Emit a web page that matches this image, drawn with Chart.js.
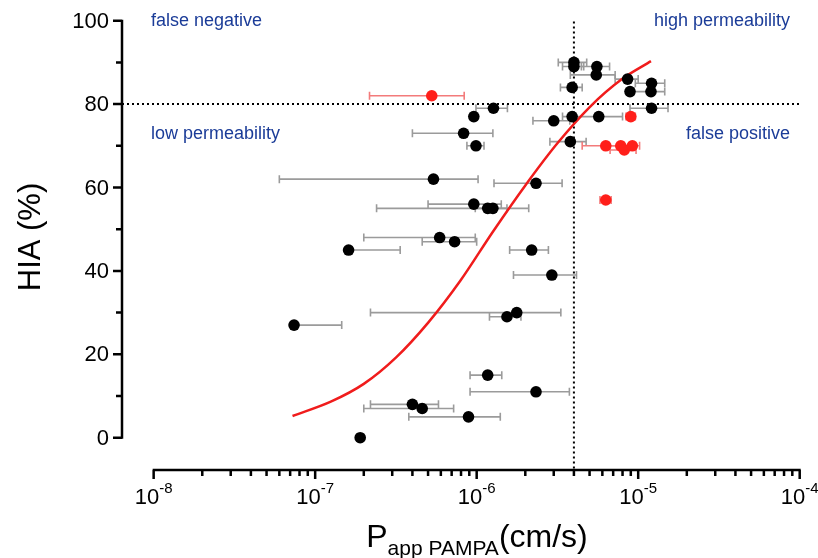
<!DOCTYPE html>
<html>
<head>
<meta charset="utf-8">
<script src="https://cdn.jsdelivr.net/npm/chart.js@4.4.1/dist/chart.umd.min.js"></script>
<style>
  body { margin: 0; background: #fff; }
  #wrap { width: 818px; height: 558px; position: relative; }
</style>
</head>
<body>
<div id="wrap"><canvas id="Chart1"></canvas></div>
<script>
// black compounds: Papp (cm/s), HIA (%), SD of Papp
const blackX = [4.0e-6, 4.0e-6, 5.55e-6, 5.5e-6, 8.6e-6, 1.21e-5, 3.9e-6, 8.9e-6, 1.2e-5, 1.21e-5,
                1.27e-6, 9.6e-7, 3.9e-6, 3.0e-6, 5.7e-6, 8.3e-7, 9.9e-7, 3.8e-6, 5.4e-7, 2.33e-6,
                9.6e-7, 1.17e-6, 1.26e-6, 5.9e-7, 7.3e-7, 1.61e-7, 2.19e-6, 2.92e-6, 1.77e-6, 1.54e-6,
                7.4e-8, 1.17e-6, 2.33e-6, 4.0e-7, 4.6e-7, 8.9e-7, 1.9e-7];
const blackY = [90, 89, 89, 87, 86, 85, 84, 83, 83, 79,
                79, 77, 77, 76, 77, 73, 70, 71, 62, 61,
                56, 55, 55, 48, 47, 45, 45, 39, 30, 29,
                27, 15, 11, 8, 7, 5, 0];
const blackSD = [0.8e-6, 0.6e-6, 1.1e-6, 1.7e-6, 1.4e-6, 2.5e-6, 0.6e-6, 0, 2.6e-6, 3.2e-6,
                 0.28e-6, 0, 0, 0.77e-6, 2.3e-6, 4.3e-7, 1.2e-7, 0.96e-6, 4.8e-7, 1.05e-6,
                 4.6e-7, 9.3e-7, 2.8e-7, 3.9e-7, 2.7e-7, 1.75e-7, 5.9e-7, 1.23e-6, 1.55e-6, 3.4e-7,
                 7.2e-8, 2.6e-7, 1.42e-6, 1.8e-7, 2.6e-7, 5.1e-7, 0];

// red compounds
const redX = [5.27e-7, 9.0e-6, 6.3e-6, 7.8e-6, 8.2e-6, 9.2e-6, 6.3e-6];
const redY = [82, 77, 70, 70, 69, 70, 57];
const redSD = [3.1e-7, 0.6e-6, 1.8e-6, 1.2e-6, 1.5e-6, 1.0e-6, 0.5e-6];

// fitted curve
const curveX = [7.24e-8, 1.26e-7, 2.0e-7, 3.16e-7, 5.01e-7, 7.94e-7, 1.26e-6,
                2.0e-6, 3.16e-6, 5.01e-6, 7.94e-6, 1.2e-5];
const curveY = [5.2, 8.7, 12.9, 19.2, 27.6, 37.7, 49.4, 60.5, 70.6, 79.3, 86.0, 90.3];

// cut-offs
const papCut = 4e-6;
const hiaCut = 80;

// axes
const xMajor = [1e-8, 1e-7, 1e-6, 1e-5, 1e-4];
const xMajorExp = ['-8', '-7', '-6', '-5', '-4'];
const yMajor = [0, 20, 40, 60, 80, 100];
const yMinor = [10, 30, 50, 70, 90];

const quadrantText = ['false negative', 'high permeability', 'low permeability', 'false positive'];

const X_MIN = Math.pow(10, -8.196);
const X_MAX = 1e-4;
const Y_MIN = -7.75;
const Y_MAX = 100;
const FONT = '"Liberation Sans", Arial, Helvetica, sans-serif';

function toPoints(xs, ys){
    return xs.map((x, i) => ({x: x, y: ys[i]}));
}

const errorBars = {
    id: 'errorBars',
    beforeDatasetsDraw(chart){
        const ctx = chart.ctx;
        const xs = chart.scales.x, ys = chart.scales.y;
        const sets = [[blackX, blackY, blackSD, '#9b9b9b'], [redX, redY, redSD, '#f37b7b']];
        ctx.save();
        ctx.lineWidth = 1.6;
        sets.forEach(([X, Y, SD, col]) => {
            ctx.strokeStyle = col;
            X.forEach((x, i) => {
                if (!SD[i]) return;
                const py = ys.getPixelForValue(Y[i]);
                const px = xs.getPixelForValue(x);
                const hi = xs.getPixelForValue(x + SD[i]);
                const lo = x - SD[i];
                let left = px;
                ctx.beginPath();
                if (lo > X_MIN){
                    left = xs.getPixelForValue(lo);
                    ctx.moveTo(left, py - 4); ctx.lineTo(left, py + 4);
                }
                ctx.moveTo(left, py); ctx.lineTo(hi, py);
                ctx.moveTo(hi, py - 4); ctx.lineTo(hi, py + 4);
                ctx.stroke();
            });
        });
        ctx.restore();
    }
};

const axesPlugin = {
    id: 'axesPlugin',
    afterDraw(chart){
        const ctx = chart.ctx;
        const xs = chart.scales.x, ys = chart.scales.y;
        const area = chart.chartArea;
        ctx.save();
        ctx.strokeStyle = '#000';
        ctx.fillStyle = '#000';
        ctx.lineWidth = 2.5;

        // y axis
        const y0 = ys.getPixelForValue(0), y100 = ys.getPixelForValue(100);
        ctx.beginPath();
        ctx.moveTo(area.left, y0 + 1); ctx.lineTo(area.left, y100 - 1);
        yMajor.forEach(v => {
            const p = ys.getPixelForValue(v);
            ctx.moveTo(area.left, p); ctx.lineTo(area.left - 9, p);
        });
        yMinor.forEach(v => {
            const p = ys.getPixelForValue(v);
            ctx.moveTo(area.left, p); ctx.lineTo(area.left - 6, p);
        });
        ctx.stroke();
        ctx.font = '22px ' + FONT;
        ctx.textAlign = 'right';
        ctx.textBaseline = 'middle';
        yMajor.forEach(v => ctx.fillText(String(v), area.left - 13, ys.getPixelForValue(v) + 1));

        // x axis
        const xb = area.bottom;
        const x1 = xs.getPixelForValue(xMajor[0]), x2 = xs.getPixelForValue(xMajor[xMajor.length - 1]);
        ctx.beginPath();
        ctx.moveTo(x1 - 1, xb); ctx.lineTo(x2 + 1, xb);
        xMajor.forEach((v, i) => {
            const p = xs.getPixelForValue(v);
            ctx.moveTo(p, xb); ctx.lineTo(p, xb + 9);
            if (i < xMajor.length - 1){
                for (let m = 2; m <= 9; m++){
                    const q = xs.getPixelForValue(v * m);
                    ctx.moveTo(q, xb); ctx.lineTo(q, xb + 6);
                }
            }
        });
        ctx.stroke();
        ctx.textBaseline = 'alphabetic';
        ctx.textAlign = 'left';
        xMajor.forEach((v, i) => {
            const p = xs.getPixelForValue(v);
            ctx.font = '22px ' + FONT;
            const w1 = ctx.measureText('10').width;
            ctx.font = '15px ' + FONT;
            const w2 = ctx.measureText(xMajorExp[i]).width;
            const start = p - (w1 + w2) / 2;
            ctx.font = '22px ' + FONT;
            ctx.fillText('10', start, 504);
            ctx.font = '15px ' + FONT;
            ctx.fillText(xMajorExp[i], start + w1, 493);
        });

        // axis titles
        ctx.font = '32px ' + FONT;
        const tP = ctx.measureText('P').width;
        const tU = ctx.measureText('(cm/s)').width;
        ctx.font = '21px ' + FONT;
        const tS = ctx.measureText('app PAMPA').width;
        let sx = 477 - (tP + tS + tU) / 2;
        ctx.font = '32px ' + FONT;
        ctx.fillText('P', sx, 547);
        ctx.font = '21px ' + FONT;
        ctx.fillText('app PAMPA', sx + tP, 555);
        ctx.font = '32px ' + FONT;
        ctx.fillText('(cm/s)', sx + tP + tS, 547);

        ctx.save();
        ctx.translate(31, 237);
        ctx.rotate(-Math.PI / 2);
        ctx.textAlign = 'center';
        ctx.textBaseline = 'middle';
        ctx.font = '31px ' + FONT;
        ctx.fillText('HIA (%)', 0, 0);
        ctx.restore();

        // quadrant labels
        ctx.fillStyle = '#1b3c98';
        ctx.font = '18px ' + FONT;
        ctx.textBaseline = 'middle';
        ctx.textAlign = 'left';
        ctx.fillText(quadrantText[0], 151, 21);
        ctx.fillText(quadrantText[2], 151, 134);
        ctx.textAlign = 'right';
        ctx.fillText(quadrantText[1], 790, 21);
        ctx.fillText(quadrantText[3], 790, 134);
        ctx.restore();
    }
};

function loadChart(){
    const ctx1 = document.getElementById('Chart1');
    const data1 = {
        datasets: [
            {
                label: 'black',
                data: toPoints(blackX, blackY),
                backgroundColor: '#000',
                borderWidth: 0,
                pointRadius: 5.8,
                order: 0
            },
            {
                label: 'red',
                data: toPoints(redX, redY),
                backgroundColor: '#ff1f1a',
                borderWidth: 0,
                pointRadius: 5.8,
                order: 0
            },
            {
                label: 'fit',
                data: toPoints(curveX, curveY),
                showLine: true,
                borderColor: '#f01c1c',
                borderWidth: 2.5,
                pointRadius: 0,
                cubicInterpolationMode: 'monotone',
                order: 1
            },
            {
                label: 'pcut',
                data: [{x: papCut, y: 101}, {x: papCut, y: Y_MIN}],
                showLine: true,
                borderColor: '#000',
                borderWidth: 2,
                borderDash: [2, 3],
                pointRadius: 0,
                order: 2
            },
            {
                label: 'hcut',
                data: [{x: X_MIN, y: hiaCut}, {x: X_MAX, y: hiaCut}],
                showLine: true,
                borderColor: '#000',
                borderWidth: 2,
                borderDash: [2, 3],
                pointRadius: 0,
                order: 2
            }
        ]
    };
    const config1 = {
        type: 'scatter',
        data: data1,
        options: {
            responsive: true,
            maintainAspectRatio: false,
            animation: false,
            layout: { padding: { left: 122, right: 18.3, top: 20.7, bottom: 88 } },
            plugins: { legend: { display: false }, tooltip: { enabled: false } },
            scales: {
                x: { type: 'logarithmic', min: X_MIN, max: X_MAX, display: false },
                y: { type: 'linear', min: Y_MIN, max: Y_MAX, display: false }
            }
        },
        plugins: [errorBars, axesPlugin]
    };
    new Chart(ctx1, config1);
}

document.addEventListener('DOMContentLoaded', function(){
    loadChart();
});
</script>
</body>
</html>
